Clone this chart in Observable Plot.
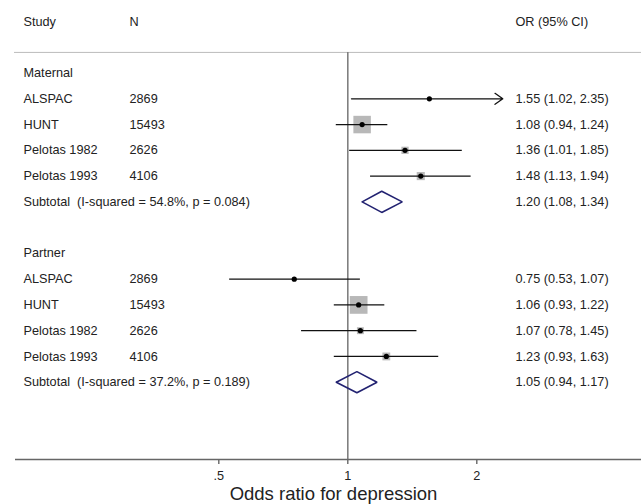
<!DOCTYPE html>
<html>
<head>
<meta charset="utf-8">
<script src="https://cdn.jsdelivr.net/npm/d3@7"></script>
<script src="https://cdn.jsdelivr.net/npm/@observablehq/plot@0.6"></script>
<style>
  html, body { margin: 0; padding: 0; background: #fff; }
  svg { display: block; }
</style>
</head>
<body>
<div id="chart"></div>
<script>
// ---- data ----
const studies = ["ALSPAC", "HUNT", "Pelotas 1982", "Pelotas 1993"];
const sampleN = [2869, 15493, 2626, 4106];

const maternalOR = [1.55, 1.08, 1.36, 1.48];
const maternalLo = [1.02, 0.94, 1.01, 1.13];
const maternalHi = [2.35, 1.24, 1.85, 1.94];
const maternalWeight = [3, 70, 12, 15];   // % weight (box area)

const partnerOR = [0.75, 1.06, 1.07, 1.23];
const partnerLo = [0.53, 0.93, 0.78, 0.93];
const partnerHi = [1.07, 1.22, 1.45, 1.63];
const partnerWeight = [3, 72, 11, 14];

const groupNames = ["Maternal", "Partner"];
const subtotalOR = [1.20, 1.05];
const subtotalLo = [1.08, 0.94];
const subtotalHi = [1.34, 1.17];
const subtotalI2 = ["54.8%", "37.2%"];
const subtotalP = ["0.084", "0.189"];

const tickValues = [0.5, 1, 2];
const tickLabels = [".5", "1", "2"];
const xAxisMax = 2.3;   // right edge of the plotted range (CIs beyond get an arrow)
const xLabel = "Odds ratio for depression";
const headers = ["Study", "N", "OR (95% CI)"];

// ---- build rows ----
const fmt = v => v.toFixed(2);
const groups = [
  {name: groupNames[0], or: maternalOR, lo: maternalLo, hi: maternalHi, w: maternalWeight},
  {name: groupNames[1], or: partnerOR, lo: partnerLo, hi: partnerHi, w: partnerWeight}
];
const studyRows = [], headRows = [], subRows = [];
let row = 0;
groups.forEach((g, gi) => {
  headRows.push({row, label: g.name});
  row++;
  studies.forEach((s, i) => {
    studyRows.push({row, label: s, n: String(sampleN[i]), est: g.or[i], lo: g.lo[i], hi: g.hi[i], w: g.w[i],
      ci: `${fmt(g.or[i])} (${fmt(g.lo[i])}, ${fmt(g.hi[i])})`});
    row++;
  });
  subRows.push({row, g: gi, label: `Subtotal  (I-squared = ${subtotalI2[gi]}, p = ${subtotalP[gi]})`,
    est: subtotalOR[gi], lo: subtotalLo[gi], hi: subtotalHi[gi],
    ci: `${fmt(subtotalOR[gi])} (${fmt(subtotalLo[gi])}, ${fmt(subtotalHi[gi])})`});
  row += 2;
});
const axisRow = 15;
const headerRow = -2;
const sepRow = -0.8;
const dh = 0.41;
const diamondPts = subRows.flatMap(s => [
  {g: s.g, x: s.lo, y: s.row}, {g: s.g, x: s.est, y: s.row - dh},
  {g: s.g, x: s.hi, y: s.row}, {g: s.g, x: s.est, y: s.row + dh},
  {g: s.g, x: s.lo, y: s.row}
]);
const inRange = studyRows.filter(d => d.hi <= xAxisMax);
const clipped = studyRows.filter(d => d.hi > xAxisMax).map(d => ({...d, hiC: xAxisMax}));

const ink = "#222";
const colN = 106, colCI = 492;   // column offsets from the left text edge
const txt = (data, opts) => Plot.text(data, {frameAnchor: "left", textAnchor: "start", fill: ink, ...opts});

const chart = Plot.plot({
  width: 641, height: 504,
  marginLeft: 23, marginRight: 0, marginTop: 0, marginBottom: 45,
  x: {type: "log", domain: [0.5, 2], range: [218.3, 476.3]},
  y: {domain: [headerRow, axisRow], range: [21, 459], axis: null},
  r: {type: "sqrt", domain: [0, 100], range: [0, 11.8]},
  style: {fontFamily: "'Liberation Sans', Arial, sans-serif", fontSize: "12.7px", background: "white", color: ink},
  marks: [
    Plot.ruleY([sepRow], {stroke: "#bbb", strokeWidth: 1, insetLeft: -9}),
    Plot.ruleX([1], {y1: sepRow, y2: axisRow, stroke: "#808080", strokeWidth: 1.6}),
    Plot.ruleY([axisRow], {stroke: "#666", strokeWidth: 1.6, insetLeft: -8}),
    Plot.axisX({ticks: tickValues, tickFormat: d => tickLabels[tickValues.indexOf(d)], tickSize: 5, tickPadding: 6,
      label: null, stroke: "#666", strokeWidth: 1.4, fill: ink, fontSize: 12.7}),
    // weight boxes
    Plot.dot(studyRows, {x: "est", y: "row", r: "w", symbol: "square", fill: "#b8b8b8", stroke: "none"}),
    // CIs
    Plot.ruleY(inRange, {y: "row", x1: "lo", x2: "hi", stroke: "#111", strokeWidth: 1.3}),
    Plot.arrow(clipped, {y1: "row", y2: "row", x1: "lo", x2: "hiC", stroke: "#111", strokeWidth: 1.3,
      headLength: 11, headAngle: 70, bend: 0}),
    Plot.dot(studyRows, {x: "est", y: "row", r: 2.6, fill: "#000", stroke: "none"}),
    // diamonds
    Plot.line(diamondPts, {x: "x", y: "y", z: "g", stroke: "#222271", strokeWidth: 1.6, strokeLinejoin: "miter"}),
    // column headers
    txt([headers[0]], {y: () => headerRow, text: d => d}),
    txt([headers[1]], {y: () => headerRow, text: d => d, dx: colN}),
    txt([headers[2]], {y: () => headerRow, text: d => d, dx: colCI}),
    // text columns
    txt(headRows, {y: "row", text: "label"}),
    txt(studyRows, {y: "row", text: "label"}),
    txt(studyRows, {y: "row", text: "n", dx: colN}),
    txt(studyRows, {y: "row", text: "ci", dx: colCI}),
    txt(subRows, {y: "row", text: "label"}),
    txt(subRows, {y: "row", text: "ci", dx: colCI}),
    Plot.text([xLabel], {frameAnchor: "bottom", dx: 1, dy: 40, text: d => d, fontSize: 18.5, fill: ink})
  ]
});
document.getElementById("chart").appendChild(chart);
</script>
</body>
</html>
